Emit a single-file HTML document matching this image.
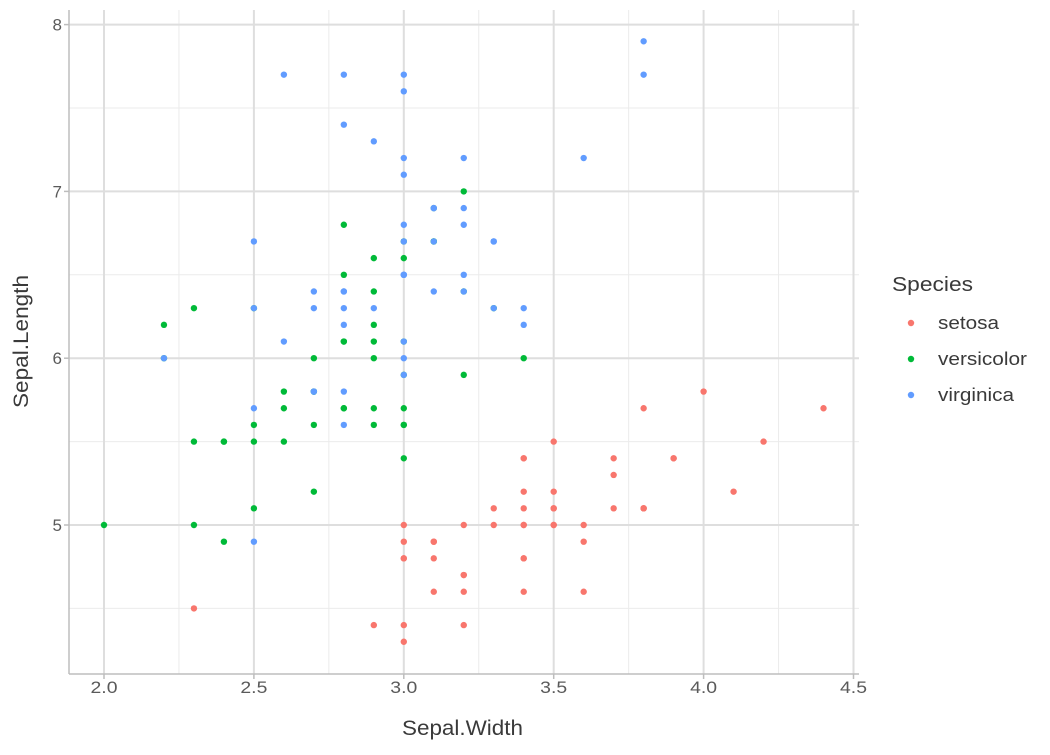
<!DOCTYPE html>
<html><head><meta charset="utf-8"><style>
body{margin:0;background:#fff;}
svg text{font-family:"Liberation Sans",sans-serif;}
</style></head><body>
<svg id="s" width="1050" height="750" xmlns="http://www.w3.org/2000/svg">
<rect width="1050" height="750" fill="#fff"/>
<g id="grid"></g>
<g id="pts"></g>
<line x1="69" y1="10" x2="69" y2="674" stroke="#bdbdbd" stroke-width="1.5"/>
<line x1="69" y1="674" x2="859" y2="674" stroke="#bdbdbd" stroke-width="1.5"/>
<g id="ticks"></g>
<text x="402" y="735" font-size="21" fill="#3a3a3a" textLength="121" lengthAdjust="spacingAndGlyphs">Sepal.Width</text>
<text transform="translate(28,408) rotate(-90)" font-size="21" fill="#3a3a3a" textLength="133" lengthAdjust="spacingAndGlyphs">Sepal.Length</text>
<text x="892" y="291" font-size="20" fill="#3a3a3a" textLength="81" lengthAdjust="spacingAndGlyphs">Species</text>
<circle cx="911" cy="323" r="3.2" fill="#F8766D"/><text x="938" y="329" font-size="18" fill="#3a3a3a" textLength="61" lengthAdjust="spacingAndGlyphs">setosa</text>
<circle cx="911" cy="359" r="3.2" fill="#00BA38"/><text x="938" y="365" font-size="18" fill="#3a3a3a" textLength="89" lengthAdjust="spacingAndGlyphs">versicolor</text>
<circle cx="911" cy="395" r="3.2" fill="#619CFF"/><text x="938" y="401" font-size="18" fill="#3a3a3a" textLength="76" lengthAdjust="spacingAndGlyphs">virginica</text>
</svg>
<script>
var NS="http://www.w3.org/2000/svg";
function X(w){return 104+(w-2)*299.8;}
function Y(l){return 525-(l-5)*166.8;}
function el(p,t,a){var e=document.createElementNS(NS,t);for(var k in a)e.setAttribute(k,a[k]);p.appendChild(e);return e;}
var g=document.getElementById('grid'),tk=document.getElementById('ticks');
[2.25,2.75,3.25,3.75,4.25].forEach(function(v){el(g,'line',{x1:X(v),x2:X(v),y1:10,y2:674,stroke:'#ebebeb','stroke-width':1});});
[4.5,5.5,6.5,7.5].forEach(function(v){el(g,'line',{y1:Y(v),y2:Y(v),x1:69,x2:859,stroke:'#ebebeb','stroke-width':1});});
[2,2.5,3,3.5,4,4.5].forEach(function(v){el(g,'line',{x1:X(v),x2:X(v),y1:10,y2:674,stroke:'#dedede','stroke-width':2});
el(tk,'line',{x1:X(v),x2:X(v),y1:674,y2:679,stroke:'#bdbdbd','stroke-width':1.5});
var t=el(tk,'text',{x:X(v),y:693,'font-size':17,fill:'#5a5a5a','text-anchor':'middle',textLength:27,lengthAdjust:'spacingAndGlyphs'});t.textContent=v.toFixed(1);});
[5,6,7,8].forEach(function(v){el(g,'line',{y1:Y(v),y2:Y(v),x1:69,x2:859,stroke:'#dedede','stroke-width':2});
el(tk,'line',{y1:Y(v),y2:Y(v),x1:64,x2:69,stroke:'#bdbdbd','stroke-width':1.5});
var t=el(tk,'text',{x:62,y:Y(v)+6,'font-size':17,fill:'#5a5a5a','text-anchor':'end'});t.textContent=v;});
var se="5.1 3.5,4.9 3.0,4.7 3.2,4.6 3.1,5.0 3.6,5.4 3.9,4.6 3.4,5.0 3.4,4.4 2.9,4.9 3.1,5.4 3.7,4.8 3.4,4.8 3.0,4.3 3.0,5.8 4.0,5.7 4.4,5.4 3.9,5.1 3.5,5.7 3.8,5.1 3.8,5.4 3.4,5.1 3.7,4.6 3.6,5.1 3.3,4.8 3.4,5.0 3.0,5.0 3.4,5.2 3.5,5.2 3.4,4.7 3.2,4.8 3.1,5.4 3.4,5.2 4.1,5.5 4.2,4.9 3.1,5.0 3.2,5.5 3.5,4.9 3.6,4.4 3.0,5.1 3.4,5.0 3.5,4.5 2.3,4.4 3.2,5.0 3.5,5.1 3.8,4.8 3.0,5.1 3.8,4.6 3.2,5.3 3.7,5.0 3.3";
var ve="7.0 3.2,6.4 3.2,6.9 3.1,5.5 2.3,6.5 2.8,5.7 2.8,6.3 3.3,4.9 2.4,6.6 2.9,5.2 2.7,5.0 2.0,5.9 3.0,6.0 2.2,6.1 2.9,5.6 2.9,6.7 3.1,5.6 3.0,5.8 2.7,6.2 2.2,5.6 2.5,5.9 3.2,6.1 2.8,6.3 2.5,6.1 2.8,6.4 2.9,6.6 3.0,6.8 2.8,6.7 3.0,6.0 2.9,5.7 2.6,5.5 2.4,5.5 2.4,5.8 2.7,6.0 2.7,5.4 3.0,6.0 3.4,6.7 3.1,6.3 2.3,5.6 3.0,5.5 2.5,5.5 2.6,6.1 3.0,5.8 2.6,5.0 2.3,5.6 2.7,5.7 3.0,5.7 2.9,6.2 2.9,5.1 2.5,5.7 2.8";
var vi="6.3 3.3,5.8 2.7,7.1 3.0,6.3 2.9,6.5 3.0,7.6 3.0,4.9 2.5,7.3 2.9,6.7 2.5,7.2 3.6,6.5 3.2,6.4 2.7,6.8 3.0,5.7 2.5,5.8 2.8,6.4 3.2,6.5 3.0,7.7 3.8,7.7 2.6,6.0 2.2,6.9 3.2,5.6 2.8,7.7 2.8,6.3 2.7,6.7 3.3,7.2 3.2,6.2 2.8,6.1 3.0,6.4 2.8,7.2 3.0,7.4 2.8,7.9 3.8,6.4 2.8,6.3 2.8,6.1 2.6,7.7 3.0,6.3 3.4,6.4 3.1,6.0 3.0,6.9 3.1,6.7 3.1,6.9 3.1,5.8 2.7,6.8 3.2,6.7 3.3,6.7 3.0,6.3 2.5,6.5 3.0,6.2 3.4,5.9 3.0";
var p=document.getElementById('pts');
[[se,'#F8766D'],[ve,'#00BA38'],[vi,'#619CFF']].forEach(function(s){s[0].split(',').forEach(function(r){var a=r.split(' ');el(p,'circle',{cx:X(+a[1]),cy:Y(+a[0]),r:3.2,fill:s[1]});});});
</script>
</body></html>
